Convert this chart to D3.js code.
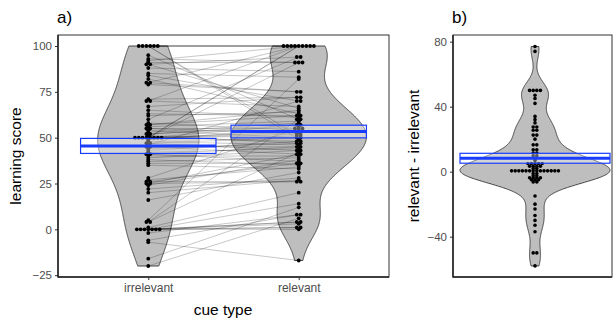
<!DOCTYPE html>
<html>
<head>
<meta charset="utf-8">
<script src="https://cdn.jsdelivr.net/npm/d3@7"></script>
<style>
  body { margin: 0; background: #fff; }
  text { font-family: "Liberation Sans", Arial, sans-serif; }
</style>
</head>
<body>
<svg id="chart" width="613" height="320"></svg>
<script>
// data (paired by index)
const cueTypes = ["irrelevant", "relevant"];
const irrelevantScores = [100, 100, 100, 100, 100, 100, 93, 92, 91, 90, 88, 85, 80, 80, 79,
  71, 70, 70, 67, 63, 60, 57, 55, 53, 50, 50, 50, 50, 50, 50, 50, 50,
  48, 46, 45, 42, 40, 37, 36, 35, 28, 27, 26, 26, 25, 25, 24, 22, 20, 16,
  5, 4, 4, 1, 0, 0, 0, 0, 0, 0, 0, -2, -7, -6, -16, -20,
  44, 52, 58, 62, 65, 47, 41, 38, 54,
  84, 95, 90, 82, 56, 55, 52, 51, 49, 47, 45, 43, 41, 39, 57];
const relevantScores = [100, 100, 100, 100, 51, 49, 91, 100, 91, 94, 86, 83, 75, 100, 75,
  72, 100, 67, 72, 62, 94, 62, 55, 58, 100, 100, 91, 48, 51, 52, 53, 57,
  46, 70, 45, 44, 40, 39, 36, 33, 55, 34, 36, 26, 26, 41, 38, 28, 27, 31,
  82, 60, 42, 20, 0, 1, 1, 4, 4, 3, 14, 8, -17, 8, 12, 6,
  47, 56, 54, 64, 61, 43, 37, 35, 50,
  70, 60, 66, 63, 59, 52, 57, 47, 55, 50, 41, 48, 45, 43, 65];
const differenceScores = [77, 74, 50, 50, 50, 50, 47, 45, 42,
  34, 32, 30, 28, 27, 26, 25, 23, 22, 20, 17, 16, 14, 13, 12, 11, 10,
  9.5, 8, 6.8, 5.5, 5.5, 5.5, 4.5, 4.5, 3.3, 3.3, 3.3, 3.3, 2, 2, 1, 1,
  0, 0, 0, 0, 0, 0, 0, 0, 0, 0, 0, 0,
  -1.2, -1.2, -2.5, -2.5, -3.7, -3.7, -3.7, -3.7, -5, -5, -5, -6.3, -6.3,
  -15, -20, -23, -27, -30, -33, -37, -50, -50, -58];
// mean +/- SE crossbars
const meanScore = [45.4, 53.3];
const seLow = [41.4, 49.9];
const seHigh = [49.6, 56.8];
const diffMean = [8.2];
const diffLow = [5.2];
const diffHigh = [11.3];
const ticksA = [-25, 0, 25, 50, 75, 100];
const ticksB = [-40, 0, 40, 80];

const svg = d3.select("#chart");
const blue = "#1a3cff";
const adjustA = [1.5, 1.1], adjustB = 1.2;

function nrd0(v) {
  const s = v.slice().sort(d3.ascending);
  const iqr = (d3.quantile(s, 0.75) - d3.quantile(s, 0.25)) / 1.34;
  return 0.9 * Math.min(d3.deviation(v), iqr) * Math.pow(v.length, -0.2);
}
function kde(v, bw) {
  const lo = d3.min(v), hi = d3.max(v);
  return d3.range(513).map(i => {
    const y = lo + (hi - lo) * i / 512;
    return [y, d3.mean(v, x => Math.exp(-0.5 * ((y - x) / bw) ** 2)) / (bw * Math.sqrt(2 * Math.PI))];
  });
}
function dotBins(v, bw) {
  const s = v.slice().sort(d3.ascending);
  const bins = [];
  let cur = null;
  for (const x of s) {
    if (!cur || x >= cur.start + bw) { cur = { start: x, vals: [] }; bins.push(cur); }
    cur.vals.push(x);
  }
  return bins.map(b => ({ center: (b.vals[0] + b.vals[b.vals.length - 1]) / 2, n: b.vals.length }));
}

function drawFrame(g, x0, x1, y, ticks) {
  g.append("rect").attr("x", x0).attr("y", 35).attr("width", x1 - x0).attr("height", 242)
    .attr("fill", "none").attr("stroke", "#333").attr("stroke-width", 1);
  const ax = g.append("g").attr("transform", `translate(${x0},0)`)
    .call(d3.axisLeft(y).tickValues(ticks).tickSize(3).tickPadding(3));
  ax.select(".domain").remove();
  ax.selectAll(".tick line").attr("stroke", "#333");
  ax.selectAll(".tick text").attr("fill", "#4d4d4d").style("font-size", "11.5px")
    .style("font-family", "Liberation Sans, Arial, sans-serif");
  g.append("line").attr("x1", x0).attr("x2", x0).attr("y1", 35).attr("y2", 277.5)
    .attr("stroke", "#222").attr("stroke-width", 1.5);
  g.append("line").attr("x1", x0).attr("x2", x1).attr("y1", 277).attr("y2", 277)
    .attr("stroke", "#222").attr("stroke-width", 1.5);
}

function drawViolin(g, cx, y, dens, maxD, halfW) {
  const area = d3.area()
    .x0(d => cx - d[1] / maxD * halfW)
    .x1(d => cx + d[1] / maxD * halfW)
    .y(d => y(d[0]));
  g.append("path").attr("d", area(dens)).attr("fill", "#bebebe")
    .attr("stroke", "#333").attr("stroke-width", 0.9);
}

function drawDots(g, v, cx, y, bw, diam) {
  const bins = dotBins(v, bw);
  const pts = [];
  bins.forEach(b => {
    for (let i = 0; i < b.n; i++) pts.push([cx + (i - (b.n - 1) / 2) * diam, y(b.center)]);
  });
  g.selectAll(null).data(pts).join("circle")
    .attr("cx", d => d[0]).attr("cy", d => d[1]).attr("r", diam / 2).attr("fill", "#000");
}

function drawCrossbar(g, cx, halfW, y, m, lo, hi) {
  g.append("rect").attr("x", cx - halfW).attr("width", 2 * halfW)
    .attr("y", y(hi)).attr("height", y(lo) - y(hi))
    .attr("fill", "#fff").attr("fill-opacity", 0.35)
    .attr("stroke", blue).attr("stroke-width", 1.2);
  g.append("line").attr("x1", cx - halfW).attr("x2", cx + halfW)
    .attr("y1", y(m)).attr("y2", y(m)).attr("stroke", blue).attr("stroke-width", 3);
}

// panel a
const ya = d3.scaleLinear().domain([-26, 106]).range([277, 35]);
const xa = d3.scalePoint().domain(cueTypes).range([58, 389]).padding(0.6);
const halfA = 0.45 * xa.step();
const ga = svg.append("g");
const seriesA = [irrelevantScores, relevantScores];
const densA = seriesA.map((v, i) => kde(v, nrd0(v) * adjustA[i]));
const maxA = d3.max(densA, d => d3.max(d, p => p[1]));
cueTypes.forEach((c, i) => drawViolin(ga, xa(c), ya, densA[i], maxA, halfA));
ga.append("g").selectAll("line").data(irrelevantScores).join("line")
  .attr("x1", xa("irrelevant")).attr("x2", xa("relevant"))
  .attr("y1", d => ya(d)).attr("y2", (d, i) => ya(relevantScores[i]))
  .attr("stroke", "#000").attr("stroke-opacity", 0.22).attr("stroke-width", 1);
cueTypes.forEach((c, i) => drawDots(ga, seriesA[i], xa(c), ya, 1, 3.8));
cueTypes.forEach((c, i) => drawCrossbar(ga, xa(c), halfA, ya, meanScore[i], seLow[i], seHigh[i]));
drawFrame(ga, 58, 389, ya, ticksA);
const xax = ga.append("g").attr("transform", "translate(0,277)")
  .call(d3.axisBottom(xa).tickSize(3).tickPadding(3));
xax.select(".domain").remove();
xax.selectAll(".tick line").attr("stroke", "#333");
xax.selectAll(".tick text").attr("fill", "#4d4d4d").style("font-size", "12px")
  .style("font-family", "Liberation Sans, Arial, sans-serif");

svg.append("text").attr("x", 223).attr("y", 315).attr("text-anchor", "middle")
  .style("font-size", "15.5px").text("cue type");
svg.append("text").attr("transform", "translate(21,156) rotate(-90)").attr("text-anchor", "middle")
  .style("font-size", "15.5px").text("learning score");
svg.append("text").attr("x", 57).attr("y", 23).style("font-size", "17px").text("a)");

// panel b
const yb = d3.scaleLinear().domain([-65, 84.1]).range([277.3, 35]);
const xb = d3.scalePoint().domain(["difference"]).range([453, 617]).padding(0.5);
const halfB = 75;
const gb = svg.append("g");
const densB = kde(differenceScores, nrd0(differenceScores) * adjustB);
const maxB = d3.max(densB, p => p[1]);
drawViolin(gb, xb("difference"), yb, densB, maxB, halfB);
drawDots(gb, differenceScores, xb("difference"), yb, 1.2, 3.6);
drawCrossbar(gb, xb("difference"), halfB, yb, diffMean[0], diffLow[0], diffHigh[0]);
drawFrame(gb, 453, 612, yb, ticksB);

svg.append("text").attr("transform", "translate(419,156) rotate(-90)").attr("text-anchor", "middle")
  .style("font-size", "15.5px").text("relevant - irrelevant");
svg.append("text").attr("x", 452).attr("y", 23).style("font-size", "17px").text("b)");
</script>
</body>
</html>
